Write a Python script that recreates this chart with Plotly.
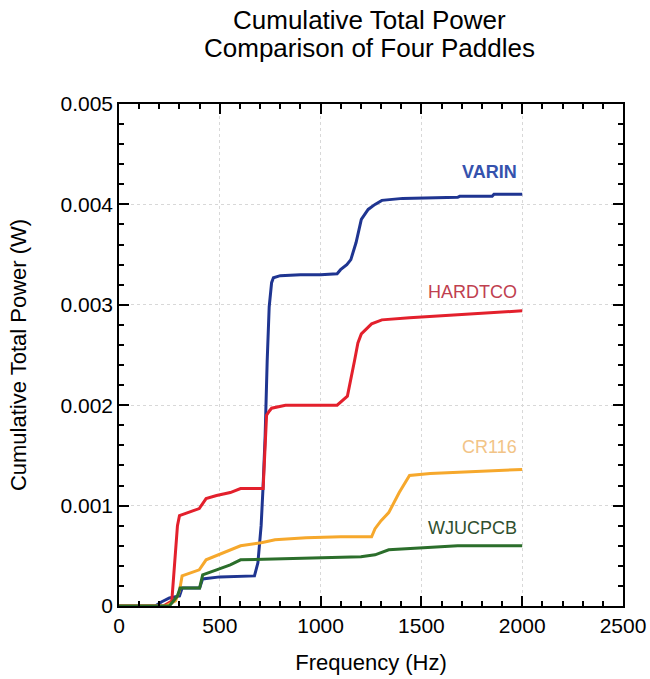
import plotly.graph_objects as go

# Frequency (Hz) and cumulative power (W)
varin_f = [0, 180, 210, 250, 300, 313, 400, 415, 500, 600, 672, 689, 705, 715, 725, 735, 745, 757, 766, 800, 900, 1000, 1082, 1099, 1130, 1150, 1176, 1202, 1236, 1270, 1304, 1407, 1680, 1690, 1851, 1860, 2000]
varin_p = [0, 0, 0.00004, 0.00008, 0.00010, 0.00018, 0.00018, 0.00027, 0.00029, 0.00030, 0.00030, 0.00043, 0.00080, 0.00120, 0.00170, 0.00244, 0.00298, 0.00322, 0.00327, 0.00329, 0.00330, 0.00330, 0.00331, 0.00335, 0.00340, 0.00345, 0.00362, 0.00385, 0.00395, 0.00400, 0.00404, 0.00406, 0.00407, 0.00408, 0.00408, 0.00410, 0.00410]

hard_f = [0, 220, 262, 272, 282, 290, 300, 347, 398, 432, 484, 552, 603, 715, 722, 732, 745, 757, 826, 1000, 1082, 1133, 1150, 1168, 1185, 1202, 1253, 1304, 1441, 1680, 1783, 2000]
hard_p = [0, 0, 0.00005, 0.00030, 0.00060, 0.00080, 0.00090, 0.00093, 0.00097, 0.00107, 0.00110, 0.00113, 0.00117, 0.00117, 0.00150, 0.00190, 0.00194, 0.00197, 0.00200, 0.00200, 0.00200, 0.00209, 0.00225, 0.00244, 0.00262, 0.00271, 0.00281, 0.00285, 0.00287, 0.00290, 0.00291, 0.00294]

cr_f = [0, 230, 280, 300, 313, 398, 432, 517, 603, 706, 774, 928, 1100, 1253, 1270, 1300, 1338, 1390, 1441, 1544, 1749, 2000]
cr_p = [0, 0, 0.00005, 0.00015, 0.00030, 0.00036, 0.00046, 0.00053, 0.00060, 0.00063, 0.00066, 0.00068, 0.00069, 0.00069, 0.00077, 0.00085, 0.00093, 0.00113, 0.00130, 0.00132, 0.00134, 0.00136]

wj_f = [0, 250, 290, 303, 400, 415, 484, 552, 603, 800, 1099, 1200, 1270, 1338, 1510, 1680, 2000]
wj_p = [0, 0, 0.00010, 0.00018, 0.00018, 0.00031, 0.00036, 0.00041, 0.00046, 0.00047, 0.00048, 0.00049, 0.00051, 0.00056, 0.00058, 0.00060, 0.00060]

names = ["VARIN", "HARDTCO", "CR116", "WJUCPCB"]
line_colors = ["#1f3591", "#e3202c", "#f6a82c", "#2b6e2b"]
label_colors = ["#3552ad", "#c0404f", "#f2c487", "#2f4f2f"]
label_bold = [True, False, False, False]
label_y = [0.00432, 0.00313, 0.00158, 0.00078]

y_tickvals = [0, 0.001, 0.002, 0.003, 0.004, 0.005]
y_ticktext = ["0", "0.001", "0.002", "0.003", "0.004", "0.005"]

fig = go.Figure()
for f, p, n, c in zip([varin_f, hard_f, cr_f, wj_f], [varin_p, hard_p, cr_p, wj_p], names, line_colors):
    fig.add_trace(go.Scatter(x=f, y=p, mode="lines", name=n,
                             line=dict(color=c, width=3)))

for n, c, y, b in zip(names, label_colors, label_y, label_bold):
    fig.add_annotation(x=1985, y=y, text=f"<b>{n}</b>" if b else n, showarrow=False,
                       xanchor="right", yanchor="middle",
                       font=dict(size=18, color=c, family="Liberation Sans"))

for txt, yy in [("Cumulative Total Power", 1.167), ("Comparison of Four Paddles", 1.112)]:
    fig.add_annotation(xref="paper", yref="paper", x=0.498, y=yy, text=txt, showarrow=False,
                       xanchor="center", yanchor="middle",
                       font=dict(size=26, color="black", family="Liberation Sans"))

axis_common = dict(showline=True, linecolor="black", linewidth=1.5, mirror="ticks",
                   ticks="inside", ticklen=10, tickwidth=1.5, tickcolor="black",
                   showgrid=True, gridcolor="#d8d8d8", griddash="dot", gridwidth=1,
                   zeroline=False, tickfont=dict(size=21, color="black"), automargin=False)

fig.update_xaxes(range=[0, 2500], dtick=500, tick0=0,
                 minor=dict(dtick=100, ticks="inside", ticklen=5, tickcolor="black", showgrid=False),
                 title=dict(text="Frequency (Hz)", font=dict(size=22, color="black"), standoff=19),
                 **axis_common)
fig.update_yaxes(range=[0, 0.005], tickvals=y_tickvals, ticktext=y_ticktext,
                 minor=dict(dtick=0.0002, ticks="inside", ticklen=5, tickcolor="black", showgrid=False),
                 title=dict(text="Cumulative Total Power (W)", font=dict(size=22, color="black"), standoff=28),
                 **axis_common)

fig.update_layout(
    width=650, height=679,
    margin=dict(l=119, r=27, t=104, b=73),
    paper_bgcolor="white", plot_bgcolor="white",
    font=dict(family="Liberation Sans, Arial, sans-serif", color="black"),
    showlegend=False,
)

fig.write_html("out.html")
